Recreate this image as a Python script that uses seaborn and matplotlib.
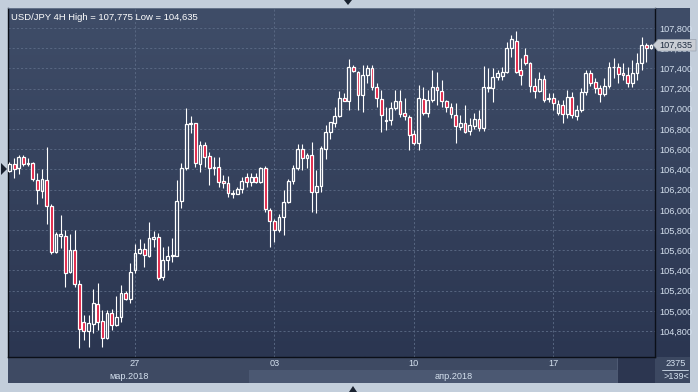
import numpy as np
import pandas as pd
import seaborn as sns
import matplotlib.pyplot as plt
from matplotlib.colors import LinearSegmentedColormap
from matplotlib.patches import Polygon, Rectangle

# USD/JPY 4H candles (oldest first)
opens = [106.384, 106.451, 106.411, 106.523, 106.451, 106.463, 106.292, 106.186, 106.292, 106.035,
         105.585, 105.744, 105.744, 105.387, 105.602, 105.266, 104.889, 104.797, 104.870, 105.068,
         104.902, 104.728, 104.976, 104.860, 104.936, 105.174, 105.114, 105.404, 105.575, 105.609,
         105.543, 105.714, 105.728, 105.332, 105.503, 105.543, 105.546, 106.090, 106.411, 106.847,
         106.857, 106.454, 106.642, 106.533, 106.414, 106.421, 106.285, 106.263, 106.158, 106.160,
         106.206, 106.322, 106.272, 106.322, 106.272, 106.411, 105.998, 105.889, 105.800, 105.926,
         106.080, 106.285, 106.417, 106.599, 106.510, 106.543, 106.179, 106.236, 106.602, 106.767,
         106.857, 106.929, 107.107, 107.080, 107.411, 107.367, 107.137, 107.335, 107.401, 107.213,
         107.094, 106.879, 106.889, 107.011, 107.080, 106.961, 106.922, 106.751, 106.664, 107.094,
         106.961, 107.087, 107.213, 107.179, 107.080, 107.015, 106.939, 106.817, 106.857, 106.783,
         106.830, 106.896, 106.807, 107.203, 107.203, 107.318, 107.325, 107.361, 107.599, 107.674,
         107.384, 107.533, 107.451, 107.226, 107.179, 107.292, 107.097, 107.104, 106.961, 107.038,
         106.949, 107.120, 106.929, 106.988, 107.169, 107.352, 107.268, 107.203, 107.147, 107.226,
         107.411, 107.417, 107.352, 107.335, 107.259, 107.352, 107.451, 107.632, 107.600]
highs = [106.473, 106.510, 106.543, 106.543, 106.510, 106.470, 106.364, 106.404, 106.622, 106.061,
         105.780, 105.949, 105.800, 105.761, 105.800, 105.305, 104.959, 104.959, 105.213, 105.273,
         105.008, 105.008, 105.018, 105.147, 105.256, 105.196, 105.471, 105.662, 105.708, 105.669,
         105.882, 105.793, 105.773, 105.629, 105.642, 105.718, 106.295, 106.461, 107.005, 106.929,
         106.859, 106.684, 106.674, 106.575, 106.526, 106.526, 106.345, 106.335, 106.196, 106.229,
         106.322, 106.367, 106.362, 106.362, 106.421, 106.434, 106.015, 105.906, 105.959, 106.196,
         106.302, 106.444, 106.649, 106.649, 106.560, 106.668, 106.394, 106.632, 106.840, 106.872,
         107.021, 107.176, 107.154, 107.490, 107.434, 107.377, 107.434, 107.434, 107.434, 107.253,
         107.186, 107.021, 107.070, 107.186, 107.186, 107.104, 106.939, 106.790, 107.236, 107.219,
         107.186, 107.384, 107.367, 107.285, 107.087, 107.055, 107.055, 106.939, 107.038, 106.909,
         106.958, 106.988, 107.424, 107.404, 107.401, 107.384, 107.417, 107.664, 107.731, 107.775,
         107.500, 107.599, 107.466, 107.302, 107.367, 107.335, 107.154, 107.154, 107.087, 107.087,
         107.186, 107.169, 107.038, 107.206, 107.384, 107.384, 107.302, 107.236, 107.302, 107.466,
         107.500, 107.451, 107.451, 107.417, 107.483, 107.550, 107.714, 107.649, 107.645]
lows = [106.374, 106.318, 106.352, 106.437, 106.437, 106.285, 106.055, 106.114, 105.863, 105.560,
        105.572, 105.619, 105.239, 105.374, 105.239, 104.635, 104.711, 104.639, 104.780, 104.810,
        104.645, 104.720, 104.810, 104.850, 104.892, 105.107, 105.075, 105.372, 105.563, 105.437,
        105.536, 105.629, 105.305, 105.305, 105.404, 105.483, 105.543, 106.015, 106.394, 106.758,
        106.427, 106.377, 106.427, 106.246, 106.345, 106.223, 106.213, 106.130, 106.114, 106.157,
        106.164, 106.223, 106.236, 106.263, 106.263, 105.978, 105.635, 105.684, 105.783, 105.751,
        106.067, 106.256, 106.394, 106.394, 106.411, 105.975, 105.968, 106.179, 106.503, 106.701,
        106.823, 106.922, 107.077, 106.988, 107.364, 106.988, 106.971, 107.253, 107.186, 107.021,
        106.773, 106.790, 106.840, 106.988, 106.922, 106.889, 106.592, 106.642, 106.592, 106.939,
        106.922, 107.067, 107.038, 107.021, 106.968, 106.909, 106.659, 106.790, 106.758, 106.741,
        106.800, 106.780, 106.780, 107.166, 107.070, 107.285, 107.285, 107.352, 107.510, 107.354,
        107.236, 107.434, 107.169, 107.104, 107.166, 107.070, 107.067, 106.988, 106.939, 106.862,
        106.909, 106.909, 106.889, 106.968, 107.137, 107.226, 107.157, 107.070, 107.127, 107.206,
        107.305, 107.253, 107.285, 107.219, 107.219, 107.285, 107.384, 107.466, 107.595]
closes = [106.451, 106.404, 106.523, 106.457, 106.463, 106.305, 106.193, 106.305, 106.035, 105.585,
          105.758, 105.758, 105.379, 105.599, 105.266, 104.823, 104.797, 104.877, 105.075, 104.892,
          104.728, 104.976, 104.860, 104.936, 105.174, 105.114, 105.387, 105.570, 105.609, 105.553,
          105.718, 105.728, 105.322, 105.503, 105.546, 105.553, 106.090, 106.411, 106.850, 106.857,
          106.461, 106.642, 106.520, 106.411, 106.421, 106.272, 106.263, 106.164, 106.162, 106.206,
          106.285, 106.272, 106.322, 106.272, 106.411, 106.005, 105.889, 105.800, 105.926, 106.080,
          106.288, 106.417, 106.599, 106.510, 106.543, 106.173, 106.236, 106.609, 106.767, 106.866,
          106.929, 107.107, 107.080, 107.411, 107.377, 107.137, 107.335, 107.401, 107.219, 107.104,
          106.939, 106.889, 107.011, 107.080, 106.946, 106.929, 106.741, 106.664, 107.104, 106.961,
          107.087, 107.219, 107.186, 107.080, 107.015, 106.949, 106.830, 106.857, 106.773, 106.840,
          106.896, 106.807, 107.213, 107.213, 107.318, 107.352, 107.361, 107.599, 107.688, 107.367,
          107.335, 107.451, 107.226, 107.179, 107.292, 107.087, 107.104, 107.055, 107.048, 106.949,
          107.120, 106.939, 106.988, 107.169, 107.352, 107.253, 107.203, 107.147, 107.226, 107.417,
          107.417, 107.345, 107.335, 107.259, 107.352, 107.451, 107.632, 107.599, 107.635]

price_ticks = [104.8, 105.0, 105.2, 105.4, 105.6, 105.8, 106.0, 106.2, 106.4, 106.6, 106.8, 107.0, 107.2, 107.4, 107.6, 107.8]
day_pos = [27, 57, 87, 117]
day_labels = ["27", "03", "10", "17"]
month_labels = ["мар.2018", "апр.2018"]
chart_title = "USD/JPY 4H High = 107,775 Low = 104,635"
last_price = 107.635
bar_count = "2375"
visible_count = ">139<"

frame_col = '#c3cedb'
bg_top, bg_bot = '#3f4d68', '#2b3651'
red = '#e0153a'
txt = '#d4e0ee'

df = pd.DataFrame({'open': opens, 'high': highs, 'low': lows, 'close': closes})
df['x'] = np.arange(len(df))
df['up'] = df['close'] >= df['open']
df['top'] = df[['open', 'close']].max(axis=1)
df['bot'] = df[['open', 'close']].min(axis=1)

sns.set_theme(style="dark")
plt.rcParams['font.family'] = ['Liberation Sans', 'DejaVu Sans']

W, H = 698, 392
fig = plt.figure(figsize=(W / 100, H / 100), dpi=100, facecolor=frame_col)


def px_axes(x0, y0, x1, y1):
    return fig.add_axes([x0 / W, 1 - y1 / H, (x1 - x0) / W, (y1 - y0) / H])


def gradient(a, c0, c1):
    cmap = LinearSegmentedColormap.from_list('g', [c0, c1])
    a.imshow(np.linspace(0, 1, 128).reshape(-1, 1), cmap=cmap, extent=[0, 1, 0, 1],
             transform=a.transAxes, aspect='auto', zorder=0)


# right price panel
rp = px_axes(655, 8, 690, 357)
gradient(rp, bg_top, bg_bot)
rp.set_xticks([])
rp.set_yticks([])
for s in rp.spines.values():
    s.set_visible(False)
rp.set_zorder(0)

# main chart
ax = px_axes(8, 8, 655, 357)
ax.set_zorder(2)
gradient(ax, bg_top, bg_bot)

ax.vlines(df['x'], df['top'], df['high'], color='white', lw=0.8, zorder=3)
ax.vlines(df['x'], df['low'], df['bot'], color='white', lw=0.8, zorder=3)
heights = (df['top'] - df['bot']).clip(lower=0.002)
ax.bar(df['x'], heights, bottom=df['bot'], width=0.6,
       color=np.where(df['up'], 'none', red), edgecolor='white', linewidth=0.9, zorder=4)

ax.set_xlim(-0.32, 138.88)
ax.set_ylim(104.543, 107.998)
ax.set_yticks(price_ticks)
ax.set_yticklabels([f"{v:.3f}".replace('.', ',') for v in price_ticks])
ax.yaxis.tick_right()
ax.tick_params(axis='y', length=0, pad=3, labelsize=6.6, labelcolor=txt)
ax.set_xticks(day_pos)
ax.tick_params(axis='x', length=0, labelbottom=False)
ax.grid(True, color='#5d6c87', lw=0.6, linestyle=(0, (2.5, 2.5)), zorder=1)
for side in ['left', 'top', 'right', 'bottom']:
    ax.spines[side].set_color('#0b0f18')
    ax.spines[side].set_linewidth(1.0)
ax.spines['top'].set_color('#6c7a90')
ax.spines['top'].set_linewidth(0.6)

ax.text(0.004, 0.985, chart_title, transform=ax.transAxes, ha='left', va='top',
        fontsize=6.8, color='white', zorder=6)

# current price marker
mk_y = 1 - (45 / H)
fig.patches.append(Polygon([[653 / W, mk_y], [658 / W, 1 - 39.5 / H], [696 / W, 1 - 39.5 / H],
                            [696 / W, 1 - 51 / H], [658 / W, 1 - 51 / H]],
                           closed=True, transform=fig.transFigure, facecolor='#c9cdd4',
                           edgecolor='#9aa3b0', lw=0.5, zorder=10))
fig.text(659 / W, 1 - 45.3 / H, f"{last_price:.3f}".replace('.', ','), fontsize=6.6,
         color='#1f2c40', ha='left', va='center', zorder=11)

# bottom date band
band = px_axes(8, 357, 655, 383)
band.set_xlim(ax.get_xlim())
band.set_ylim(0, 1)
band.set_facecolor('#3e4a63')
band.add_patch(Rectangle((51.5, 0), 160.5 - 51.5, 0.5, facecolor='#4b5872', lw=0))
band.add_patch(Rectangle((130.7, 0), 140, 1, facecolor='#2c3650', lw=0))
band.add_patch(Rectangle((130.7, 0), 140, 1, facecolor='none', edgecolor='#55627a', lw=0.6))
for p, lab in zip(day_pos, day_labels):
    band.text(p, 0.74, lab, ha='center', va='center', fontsize=6.6, color=txt)
band.text(25.8, 0.25, month_labels[0], ha='center', va='center', fontsize=6.6, color=txt)
band.text(95.5, 0.25, month_labels[1], ha='center', va='center', fontsize=6.6, color=txt)
band.set_xticks([])
band.set_yticks([])
for s in band.spines.values():
    s.set_visible(False)

# count cell
cell = px_axes(655, 357, 690, 383)
cell.set_facecolor('#3c4861')
cell.set_xlim(0, 1)
cell.set_ylim(0, 1)
cell.plot([0.2, 0.95], [0.5, 0.5], color=txt, lw=0.6)
cell.text(0.6, 0.74, bar_count, ha='center', va='center', fontsize=6.6, color=txt)
cell.text(0.6, 0.25, visible_count, ha='center', va='center', fontsize=6.6, color=txt)
cell.set_xticks([])
cell.set_yticks([])
for s in cell.spines.values():
    s.set_visible(False)

# small frame arrows
for pts in ([[344, 0], [352, 0], [348, 5]], [[1, 163], [1, 175], [7, 169]], [[349, 392], [357, 392], [353, 386]]):
    fig.patches.append(Polygon([[x / W, 1 - y / H] for x, y in pts], closed=True,
                               transform=fig.transFigure, facecolor='#1a2230', lw=0, zorder=10))

fig.savefig('out.png', dpi=100, facecolor=frame_col)
